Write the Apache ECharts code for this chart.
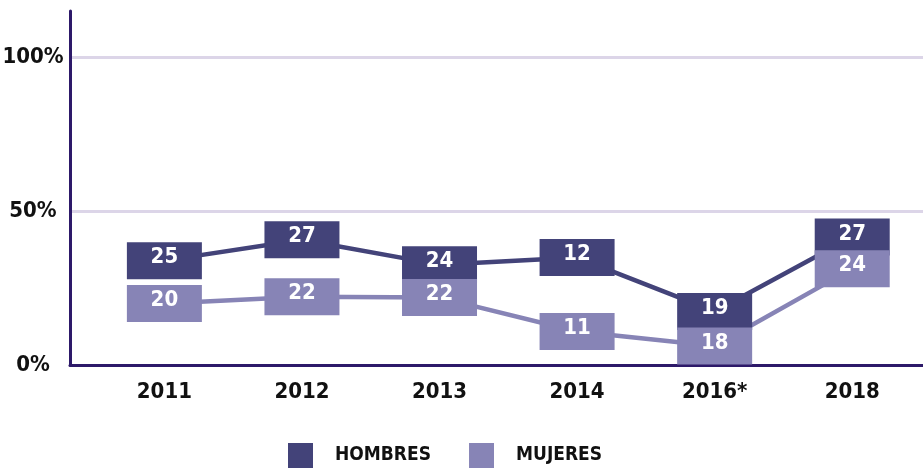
<!DOCTYPE html>
<html>
<head>
<meta charset="utf-8">
<script src="https://cdn.jsdelivr.net/npm/echarts@6/dist/echarts.min.js"></script>
<style>
  html, body { margin: 0; padding: 0; background: #fff; }
  #chart { width: 923px; height: 470px; }
</style>
</head>
<body>
<div id="chart"></div>
<script>
// 数据
var years = ['2011', '2012', '2013', '2014', '2016*', '2018'];
var hombres = [25, 27, 24, 12, 19, 27];
var mujeres = [20, 22, 22, 11, 18, 24];
// where the boxes sit in the original graphic (percent scale)
var hombresPos = [33.9, 40.7, 32.6, 34.9, 17.4, 41.6];
var mujeresPos = [20.0, 22.2, 21.9, 10.9, 6.2, 31.3];
var yTicks = [0, 50, 100];

var font = "'DejaVu Sans Condensed', 'Liberation Sans Narrow', sans-serif";
var dark = '#434379';
var light = '#8784b6';

var myChart = echarts.init(document.getElementById('chart'));

function boxLabel(values) {
    return {
        show: true,
        position: 'inside',
        offset: [0, -3],
        color: '#fff',
        fontFamily: font,
        fontWeight: 'bold',
        fontSize: 22,
        formatter: function (p) { return values[p.dataIndex]; }
    };
}

var option = {
    animation: false,
    legend: {
        data: ['HOMBRES', 'MUJERES'],
        icon: 'rect',
        itemWidth: 25,
        itemHeight: 25,
        itemGap: 38,
        left: 288,
        top: 443,
        padding: 0,
        textStyle: {
            fontFamily: font,
            fontWeight: 'bold',
            fontSize: 19,
            color: '#111',
            padding: [0, 0, 0, 17]
        }
    },
    grid: [
        { left: 70, right: 0, top: 11, height: 354, outerBoundsMode: 'none', containLabel: false },
        { left: 95.6, width: 825.4, top: 11, height: 354, outerBoundsMode: 'none', containLabel: false }
    ],
    xAxis: [
        {
            gridIndex: 0, type: 'value', min: 0, max: 1,
            axisLine: { show: true, lineStyle: { color: '#2d1969', width: 3 } },
            axisTick: { show: false }, axisLabel: { show: false }, splitLine: { show: false }
        },
        {
            gridIndex: 1, type: 'category', data: years, boundaryGap: true,
            axisLine: { show: false }, axisTick: { show: false },
            axisLabel: {
                margin: 16, color: '#111', fontFamily: font, fontWeight: 'bold', fontSize: 22
            }
        }
    ],
    yAxis: [
        {
            gridIndex: 0, type: 'value', min: 0, max: 115, interval: 50,
            axisLine: { show: true, lineStyle: { color: '#2d1969', width: 3 } },
            axisTick: { show: false },
            axisLabel: {
                align: 'center', margin: 37, color: '#111',
                fontFamily: font, fontWeight: 'bold', fontSize: 22,
                formatter: function (v) { return yTicks.indexOf(v) >= 0 ? v + '%' : ''; }
            },
            splitLine: {
                show: true, showMinLine: false, showMaxLine: false,
                lineStyle: { color: '#dcd5e8', width: 3 }
            }
        },
        {
            gridIndex: 1, type: 'value', min: 0, max: 115,
            show: false, splitLine: { show: false }
        }
    ],
    series: [
        {
            name: 'HOMBRES', type: 'line', xAxisIndex: 1, yAxisIndex: 1,
            data: hombresPos,
            symbol: 'rect', symbolSize: [75, 37],
            itemStyle: { color: dark },
            lineStyle: { color: dark, width: 4.5 },
            label: boxLabel(hombres)
        },
        {
            name: 'MUJERES', type: 'line', xAxisIndex: 1, yAxisIndex: 1,
            data: mujeresPos,
            symbol: 'rect', symbolSize: [75, 37],
            itemStyle: { color: light },
            lineStyle: { color: light, width: 4.5 },
            label: boxLabel(mujeres)
        }
    ]
};

myChart.setOption(option);
</script>
</body>
</html>
